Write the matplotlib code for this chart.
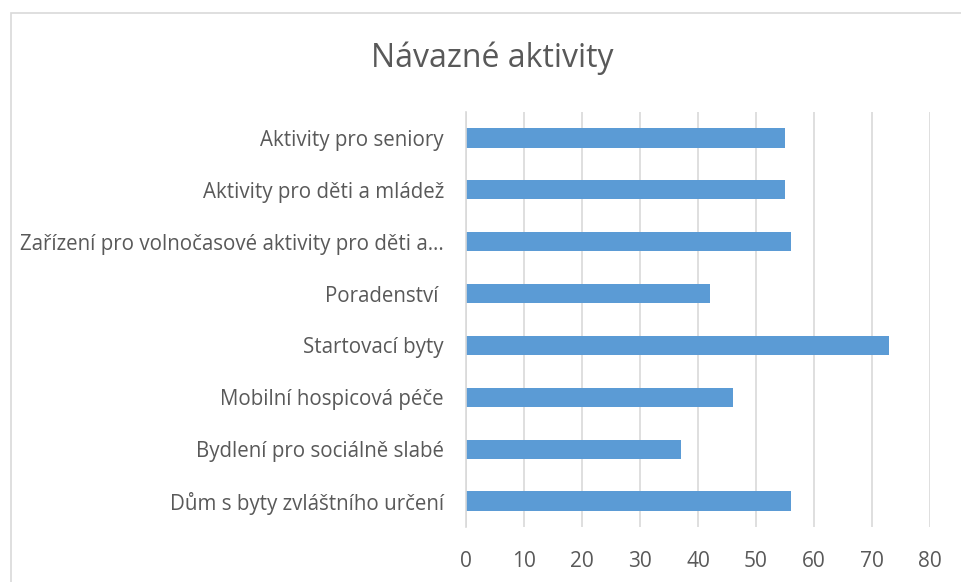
import matplotlib.pyplot as plt
from matplotlib.patches import Rectangle

# data, top to bottom as in the chart
categories = ['Aktivity pro seniory',
              'Aktivity pro děti a mládež',
              'Zařízení pro volnočasové aktivity pro děti a…',
              'Poradenství ',
              'Startovací byty',
              'Mobilní hospicová péče',
              'Bydlení pro sociálně slabé',
              'Dům s byty zvláštního určení']
values = [55, 55, 56, 42, 73, 46, 37, 56]
xticks = [0, 10, 20, 30, 40, 50, 60, 70, 80]

plt.rcParams['font.family'] = ['Open Sans', 'DejaVu Sans']
txt = '#595959'

fig = plt.figure(figsize=(9.61, 5.82), dpi=100)
# outer chart border (cropped on right and bottom)
fig.patches.append(Rectangle((11/961, -0.1), 2.0, 1 - 13/582 + 0.1,
                             transform=fig.transFigure, fill=False,
                             edgecolor='#D9D9D9', linewidth=1.2))

ax = fig.add_axes([466/961, 1 - 527/582, (930 - 466)/961, (527 - 112)/582])
ypos = list(range(len(categories)))[::-1]
ax.barh(ypos, values, height=0.37, color='#5B9BD5')
ax.set_xlim(0, 80)
ax.set_ylim(-0.5, len(categories) - 0.5)
ax.set_xticks(xticks)
ax.set_yticks(ypos)
ax.set_yticklabels(categories)
ax.grid(axis='x', color='#D9D9D9', linewidth=1.2)
ax.set_axisbelow(True)
for s in ['top', 'right', 'bottom']:
    ax.spines[s].set_visible(False)
ax.spines['left'].set_color('#D9D9D9')
ax.spines['left'].set_linewidth(1.2)
ax.tick_params(axis='both', length=0, colors=txt)
ax.tick_params(axis='y', pad=16, labelsize=14.8)
ax.tick_params(axis='x', pad=17, labelsize=15)

fig.text(492/961, 1 - 58/582, 'Návazné aktivity', ha='center', va='center',
         fontsize=23, color=txt)

fig.savefig('out.png', dpi=100)
